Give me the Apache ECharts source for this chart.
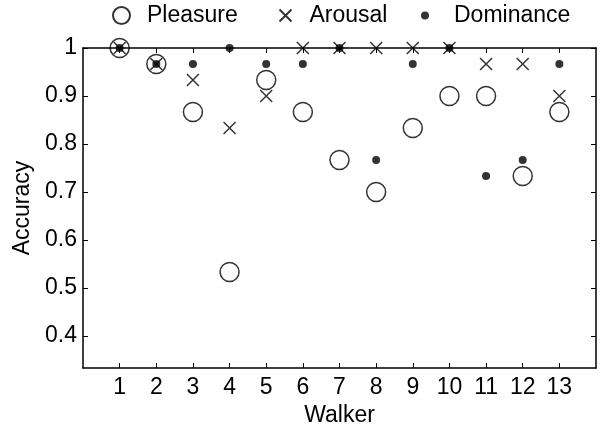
<!DOCTYPE html>
<html>
<head>
<meta charset="utf-8">
<script src="https://cdn.jsdelivr.net/npm/echarts@6.0.0/dist/echarts.min.js"></script>
<style>
  html, body { margin: 0; padding: 0; background: #fff; }
  #chart { width: 602px; height: 425px; }
</style>
</head>
<body>
<div id="chart"></div>
<script>
// walkers and per-dimension accuracy
const walkers = [1, 2, 3, 4, 5, 6, 7, 8, 9, 10, 11, 12, 13];
const pleasure = [1, 0.9667, 0.8667, 0.5333, 0.9333, 0.8667, 0.7667, 0.7, 0.8333, 0.9, 0.9, 0.7333, 0.8667];
const arousal = [1, 0.9667, 0.9333, 0.8333, 0.9, 1, 1, 1, 1, 1, 0.9667, 0.9667, 0.9];
const dominance = [1, 0.9667, 0.9667, 1, 0.9667, 0.9667, 1, 0.7667, 0.9667, 1, 0.7333, 0.7667, 0.9667];
const yTicks = [0.4, 0.5, 0.6, 0.7, 0.8, 0.9, 1];

const font = 'Liberation Sans';
const fs = 23;
const pairs = (vals) => walkers.map((w, i) => [w, vals[i]]);

const chart = echarts.init(document.getElementById('chart'));

const xBase = {
  type: 'value',
  min: 0,
  max: 14,
  axisLine: { show: true, onZero: false, lineStyle: { color: '#000', width: 1.5 } },
  axisTick: { show: true, inside: true, length: 5, customValues: walkers, lineStyle: { color: '#000', width: 1 } },
  splitLine: { show: false }
};
const yBase = {
  type: 'value',
  min: 1 / 3,
  max: 1,
  axisLine: { show: true, onZero: false, lineStyle: { color: '#000', width: 1.5 } },
  axisTick: { show: true, inside: true, length: 5, customValues: yTicks, lineStyle: { color: '#000', width: 1 } },
  splitLine: { show: false }
};

// one legend per item so each marker keeps its own size
const legendAt = (name, left, size, gap) => ({
  top: 4,
  left: left,
  padding: 0,
  itemWidth: size,
  itemHeight: size,
  textStyle: { fontFamily: font, fontSize: fs, color: '#000', padding: [0, 0, 0, gap] },
  data: [name]
});

chart.setOption({
  animation: false,
  backgroundColor: '#fff',
  textStyle: { fontFamily: font },
  grid: { left: 83, right: 6, top: 48, bottom: 57, outerBoundsMode: 'none' },
  legend: [
    legendAt('Pleasure', 112, 17, 12),
    legendAt('Arousal', 277, 12, 13),
    legendAt('Dominance', 421, 8, 20)
  ],
  xAxis: [
    Object.assign({}, xBase, {
      position: 'bottom',
      name: 'Walker',
      nameLocation: 'middle',
      nameGap: 32,
      nameTextStyle: { fontFamily: font, fontSize: fs, color: '#000' },
      axisLabel: { show: true, customValues: walkers, margin: 8, fontFamily: font, fontSize: fs, color: '#000' }
    }),
    Object.assign({}, xBase, { position: 'top', axisLabel: { show: false } })
  ],
  yAxis: [
    Object.assign({}, yBase, {
      position: 'left',
      name: 'Accuracy',
      nameLocation: 'middle',
      nameGap: 49,
      nameTextStyle: { fontFamily: font, fontSize: fs, color: '#000' },
      axisLabel: { show: true, customValues: yTicks, margin: 6, fontFamily: font, fontSize: fs, color: '#000' }
    }),
    Object.assign({}, yBase, { position: 'right', axisLabel: { show: false } })
  ],
  series: [
    {
      name: 'Pleasure',
      type: 'scatter',
      clip: false,
      symbol: 'circle',
      symbolSize: 19,
      itemStyle: { color: 'rgba(255,255,255,0)', borderColor: '#000', borderWidth: 1.5 },
      data: pairs(pleasure)
    },
    {
      name: 'Arousal',
      type: 'scatter',
      clip: false,
      symbol: 'path://M0,0L10,10M10,0L0,10',
      symbolSize: 12,
      itemStyle: { color: 'none', borderColor: '#000', borderWidth: 1.5 },
      data: pairs(arousal)
    },
    {
      name: 'Dominance',
      type: 'scatter',
      clip: false,
      symbol: 'circle',
      symbolSize: 8,
      itemStyle: { color: '#000' },
      data: pairs(dominance)
    }
  ]
});
</script>
</body>
</html>
